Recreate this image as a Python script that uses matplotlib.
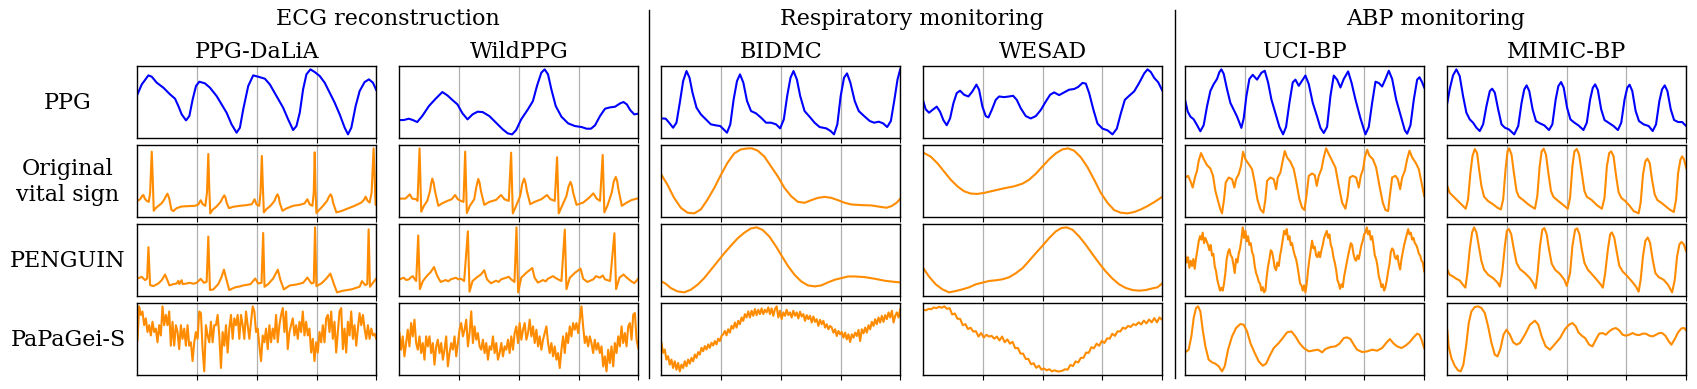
import numpy as np
import matplotlib
matplotlib.use("Agg")
import matplotlib.pyplot as plt
from matplotlib.lines import Line2D

plt.rcParams['font.family'] = ['DejaVu Serif']

# ---------------- labels ----------------
groups = ["ECG reconstruction", "Respiratory monitoring", "ABP monitoring"]
datasets = ["PPG-DaLiA", "WildPPG", "BIDMC", "WESAD", "UCI-BP", "MIMIC-BP"]
row_labels = ["PPG", "Original\nvital sign", "PENGUIN", "PaPaGei-S"]

# ---------------- data (time, amplitude) ----------------
# PPG-DaLiA
dalia_ppg = [(0,133),(13,163),(33,190),(43,186),(58,168),(78,153),(98,133),(113,120),(123,98),(133,73),(146,55),(156,68),(166,118),(176,158),(186,171),(203,166),(218,153),(238,128),(253,103),(268,78),(283,43),(298,18),(308,33),(318,88),(333,158),(348,190),(363,186),(383,180),(398,163),(418,128),(438,93),(453,58),(468,26),(478,38),(488,78),(498,148),(508,193),(520,208),(533,200),(548,188),(563,168),(578,138),(593,108),(608,73),(623,33),(633,13),(643,33),(656,98),(668,143),(683,170),(696,178),(708,168),(718,146)]
dalia_orig = [(0,49),(8,54),(14,64),(18,67),(22,56),(28,49),(34,46),(38,74),(43,199),(46,114),(49,19),(54,26),(63,34),(73,42),(81,54),(86,64),(90,71),(93,64),(96,54),(102,22),(108,18),(118,27),(133,32),(153,33),(173,34),(183,38),(190,51),(196,39),(204,34),(209,74),(213,192),(216,84),(219,11),(226,22),(238,32),(250,46),(256,58),(261,66),(265,58),(268,44),(275,27),(288,31),(308,34),(328,36),(344,39),(352,54),(358,38),(366,34),(370,74),(374,186),(377,94),(380,14),(388,24),(400,34),(412,49),(417,62),(421,69),(425,60),(428,42),(436,19),(448,26),(468,34),(488,37),(502,41),(511,54),(518,38),(526,34),(530,74),(533,197),(535,94),(538,12),(546,21),(558,34),(570,49),(576,62),(581,69),(585,60),(588,44),(598,14),(613,18),(633,26),(653,34),(673,44),(681,52),(686,62),(692,49),(698,44),(704,74),(710,209),(713,124),(716,37),(718,37)]
dalia_penguin = [(0,54),(13,59),(23,49),(29,54),(33,149),(38,34),(48,31),(63,39),(73,49),(83,66),(90,49),(96,33),(108,37),(118,39),(123,47),(126,37),(133,49),(136,37),(148,39),(158,41),(168,38),(178,41),(190,53),(200,41),(208,44),(213,181),(218,19),(228,21),(243,37),(253,59),(260,81),(268,49),(276,19),(293,27),(308,30),(318,33),(330,35),(340,37),(354,54),(363,39),(373,41),(378,192),(382,29),(393,37),(408,54),(422,81),(430,49),(440,21),(458,33),(473,35),(483,37),(498,41),(511,57),(523,39),(530,41),(534,209),(538,31),(553,39),(568,54),(580,69),(590,39),(600,12),(618,17),(643,21),(668,29),(675,46),(685,34),(691,37),(695,203),(699,29),(708,41),(718,54)]
dalia_papagei = [100,200,175,185,145,165,125,145,115,155,125,135,95,145,115,200,145,175,145,185,85,155,85,145,125,75,145,105,135,85,145,85,95,40,95,125,105,185,180,75,10,145,115,95,155,95,145,145,175,115,20,125,85,145,65,135,175,105,165,145,175,105,175,145,105,185,145,105,155,200,185,125,135,85,40,115,95,135,75,145,95,135,105,175,95,145,175,195,125,185,75,125,145,165,115,145,105,155,125,185,115,155,115,135,65,105,40,95,65,125,95,145,95,165,175,125,185,105,155,65,125,185,195,75,135,65,155,115,185,105,145,85,135,180,145,175,135,105,145,105,135,115,120,105]

# WildPPG
wild_ppg = [(0,56),(13,56),(28,60),(40,56),(53,50),(68,68),(88,98),(108,120),(128,140),(143,130),(158,116),(173,103),(188,76),(203,58),(218,73),(233,81),(248,80),(268,68),(288,48),(308,28),(323,16),(336,13),(348,26),(363,58),(383,88),(398,113),(410,158),(423,198),(433,208),(443,193),(453,148),(466,98),(483,66),(503,46),(523,38),(543,35),(558,30),(571,30),(583,40),(598,68),(613,90),(628,94),(643,96),(658,106),(668,110),(678,103),(688,86),(700,73),(712,75)]
wild_orig = [(0,56),(18,56),(31,69),(38,56),(50,54),(54,49),(60,209),(65,16),(73,34),(83,49),(91,79),(95,104),(98,117),(102,104),(106,79),(116,34),(128,42),(143,49),(156,54),(166,67),(174,54),(183,49),(191,46),(196,199),(201,12),(210,34),(223,54),(229,90),(235,116),(239,104),(243,79),(253,37),(268,46),(288,52),(303,67),(313,54),(326,49),(333,196),(338,11),(348,34),(360,64),(366,100),(372,117),(376,104),(380,79),(390,39),(403,46),(423,54),(440,67),(450,54),(463,49),(470,182),(475,11),(485,34),(498,64),(504,92),(510,107),(514,96),(518,74),(528,37),(548,44),(566,59),(578,72),(588,56),(598,49),(606,189),(611,14),(620,34),(633,74),(639,108),(645,122),(649,110),(653,84),(663,34),(678,44),(693,52),(712,57)]
wild_penguin = [(0,49),(13,54),(20,47),(28,49),(34,55),(40,59),(46,49),(50,44),(56,184),(61,19),(70,44),(83,61),(93,71),(103,87),(113,59),(123,41),(138,47),(146,43),(153,49),(168,54),(176,49),(183,51),(193,44),(204,197),(209,11),(218,44),(233,57),(243,64),(253,77),(261,49),(273,37),(288,45),(296,41),(303,49),(318,54),(326,57),(333,49),(343,41),(349,209),(354,9),(363,54),(378,69),(396,84),(403,54),(413,39),(428,47),(436,43),(443,51),(458,59),(466,53),(473,49),(483,44),(493,202),(498,19),(508,54),(523,69),(540,82),(548,51),(560,41),(578,49),(586,59),(598,54),(606,61),(613,49),(628,44),(641,191),(646,19),(656,54),(668,64),(678,54),(690,44),(700,37),(712,51)]
wild_papagei = [125,75,115,55,95,135,85,155,115,165,95,75,115,65,95,45,115,85,115,65,95,30,85,105,65,95,45,75,115,25,65,95,75,115,55,95,135,155,115,135,165,85,125,190,95,145,105,125,85,75,105,65,95,45,85,75,115,65,95,45,65,95,55,85,75,105,65,115,75,125,145,95,155,105,135,155,105,125,165,115,145,95,135,85,115,75,105,125,145,95,65,95,55,85,45,65,20,75,115,65,125,95,145,115,155,135,155,125,165,205,145,95,115,85,115,95,65,105,75,95,65,85,25,55,10,75,35,85,25,95,65,115,85,145,95,125,85,145,155,105,180,185,105,80]

# BIDMC
bidmc_ppg = [(0,61),(13,60),(23,48),(35,33),(45,48),(55,108),(65,173),(75,203),(84,183),(93,138),(105,93),(118,73),(133,58),(148,43),(163,40),(176,38),(188,26),(196,18),(206,43),(216,118),(226,173),(235,193),(245,168),(256,113),(268,83),(283,76),(298,63),(313,48),(328,48),(343,43),(355,31),(366,58),(376,128),(386,183),(395,203),(405,178),(415,128),(428,83),(443,66),(458,48),(473,35),(493,31),(506,23),(516,13),(526,43),(536,128),(546,183),(555,196),(565,168),(578,113),(590,83),(606,68),(623,53),(636,48),(650,51),(663,46),(675,35),(686,53),(696,113),(706,178),(714,208)]
bidmc_orig = [(0,129),(18,99),(38,59),(58,29),(78,14),(98,12),(118,24),(138,54),(158,89),(178,129),(198,166),(218,194),(238,206),(258,209),(271,209),(288,202),(308,184),(328,154),(348,124),(368,89),(388,64),(408,47),(428,44),(448,52),(468,59),(488,62),(508,59),(528,52),(548,44),(568,39),(598,37),(628,36),(653,32),(673,29),(688,34),(703,44),(714,56)]
bidmc_penguin = [(0,44),(13,37),(28,24),(48,14),(68,11),(88,19),(108,34),(128,54),(148,79),(168,104),(188,129),(208,152),(228,174),(248,191),(268,204),(285,207),(303,199),(323,179),(343,149),(358,124),(378,91),(398,64),(418,44),(438,32),(458,29),(478,32),(498,41),(518,49),(538,54),(558,59),(578,59),(608,57),(638,52),(668,46),(693,43),(714,41)]
bidmc_papagei = [95,65,75,45,55,30,45,20,40,15,35,10,30,20,40,25,45,33,50,40,60,50,67,60,80,70,85,75,90,80,95,87,100,90,107,100,115,120,130,117,135,125,145,137,155,140,160,150,170,160,180,170,188,170,190,175,195,177,193,180,197,180,193,185,200,180,197,175,195,203,170,190,165,185,175,193,177,185,170,190,175,185,167,187,173,180,160,177,165,175,155,173,157,165,145,163,150,160,140,150,135,145,140,125,135,115,130,120,127,110,125,105,120,97,120,110,125,115,133,100,135,123,140,125,147,135,157,145,165,150,170,155,175,157,177,165,185,170,190,155,175,185,170,195]

# WESAD
wesad_ppg = [(0,113),(7,90),(17,80),(27,88),(40,98),(50,83),(60,58),(70,43),(80,63),(90,108),(100,138),(110,145),(122,133),(135,128),(147,143),(159,163),(167,148),(177,98),(187,70),(195,66),(205,88),(217,118),(227,128),(242,126),(257,128),(269,130),(280,118),(292,93),(307,70),(322,63),(337,70),(352,88),(367,113),(380,133),(392,140),(407,132),(422,140),(437,148),(452,150),(464,156),(477,168),(487,166),(497,138),(510,88),(522,48),(537,33),(552,28),(567,16),(580,33),(592,78),(604,118),(617,130),(632,143),(647,168),(662,196),(672,208),(682,200),(692,183),(704,170),(716,146)]
wesad_orig = [(0,196),(22,184),(42,164),(62,139),(82,114),(102,94),(122,79),(142,72),(162,71),(182,74),(212,81),(242,88),(272,94),(297,102),(317,114),(337,132),(357,154),(377,176),(397,194),(417,206),(434,209),(452,202),(472,182),(492,152),(512,114),(532,74),(552,44),(572,22),(592,14),(612,12),(632,16),(652,24),(672,34),(692,46),(716,62)]
wesad_penguin = [(0,84),(17,59),(37,36),(57,21),(77,12),(97,16),(117,21),(137,27),(157,36),(177,41),(197,46),(217,48),(237,51),(257,57),(277,69),(297,84),(317,106),(337,129),(357,151),(377,174),(397,194),(414,204),(429,206),(447,199),(467,179),(487,154),(507,126),(527,99),(547,74),(567,53),(587,36),(607,25),(627,19),(647,17),(667,19),(687,24),(702,27),(716,39)]
wesad_papagei = [194,193,197,196,201,199,203,200,204,197,199,181,184,169,169,151,154,140,144,133,134,119,129,116,124,119,121,113,119,108,119,103,111,99,104,86,87,71,71,56,56,41,44,31,37,26,29,24,27,21,24,21,21,23,27,26,39,36,49,46,59,59,74,73,89,86,99,93,107,101,114,113,127,121,134,133,144,141,149,146,154,151,159,153,164,156,167,159,171,159,173,166]

# UCI-BP
uci_ppg = [(0,113),(7,83),(15,68),(25,60),(35,43),(45,25),(55,43),(65,98),(75,143),(85,163),(95,178),(102,198),(108,206),(115,193),(125,148),(135,108),(145,88),(155,68),(168,35),(175,63),(183,128),(192,178),(202,190),(215,176),(228,196),(238,202),(248,168),(258,118),(270,78),(282,38),(293,16),(302,38),(312,108),(322,168),(330,176),(340,158),(350,173),(360,188),(370,163),(382,108),(395,68),(405,35),(415,20),(425,38),(435,128),(445,188),(455,176),(465,153),(475,178),(488,200),(498,168),(510,118),(525,63),(540,16),(550,38),(560,108),(570,170),(580,166),(590,156),(600,178),(610,202),(620,178),(632,118),(645,73),(658,28),(665,18),(675,43),(685,118),(695,176),(702,183),(710,168),(716,153)]
uci_orig = [(0,119),(8,124),(15,109),(22,89),(30,124),(35,139),(40,169),(47,192),(55,174),(65,156),(75,146),(83,124),(90,79),(98,49),(105,24),(110,12),(116,54),(121,104),(130,119),(140,114),(147,89),(152,114),(160,129),(167,154),(173,196),(180,174),(190,159),(200,144),(208,104),(216,54),(225,24),(234,14),(240,54),(245,109),(255,119),(265,114),(272,84),(277,119),(285,134),(292,169),(298,198),(305,179),(315,166),(325,144),(333,104),(342,54),(350,29),(357,22),(363,64),(370,124),(380,131),(388,126),(394,94),(400,124),(408,144),(415,179),(422,206),(430,189),(440,169),(450,149),(460,94),(470,44),(480,26),(487,64),(493,119),(502,124),(512,119),(520,89),(526,124),(533,144),(538,179),(545,202),(552,184),(562,174),(572,149),(582,94),(592,44),(600,22),(608,19),(613,64),(620,119),(630,124),(637,114),(644,84),(650,119),(658,139),(665,174),(672,199),(680,179),(690,164),(700,144),(708,104),(716,64)]
uci_penguin = [119,99,114,84,104,89,109,81,111,134,159,174,164,184,154,169,159,149,134,149,119,124,89,74,49,34,19,27,19,39,69,109,129,137,119,114,94,69,109,99,124,139,164,199,169,189,159,174,149,154,129,119,89,69,59,44,39,19,29,14,19,59,89,109,134,129,109,84,77,99,89,119,139,164,189,179,194,164,174,149,154,134,119,109,89,64,39,34,19,34,14,39,79,109,134,161,139,144,119,114,129,114,134,149,169,179,189,169,179,149,139,114,99,79,49,39,24,37,29,59,79,99,119,137,154,149,124,109,104,119,109,129,149,161,179,184,199,179,189,164,174,149,119,109,89,59,47,29,37,19,29,49,74,94,129,139,134,114,109,119,94,79,109,129,149,164,179,194,179,184,164,169,154,149,139,124,119,104,99,74]
uci_papagei = [(0,67),(10,75),(18,115),(25,170),(32,200),(38,205),(45,190),(52,135),(60,85),(70,45),(80,37),(90,33),(100,25),(110,10),(118,25),(128,75),(140,115),(152,140),(165,152),(175,150),(185,130),(195,95),(208,65),(220,40),(232,27),(242,33),(252,55),(265,80),(280,95),(292,110),(305,127),(318,130),(330,115),(342,95),(355,80),(370,70),(385,73),(398,75),(410,67),(420,77),(435,83),(450,85),(462,93),(475,110),(485,112),(495,107),(505,90),(515,75),(530,68),(545,70),(560,75),(575,72),(590,80),(602,95),(613,107),(625,93),(635,85),(648,80),(660,87),(672,97),(685,113),(695,123),(702,120),(708,105),(716,80)]

# MIMIC-BP
mimic_ppg = [(0,108),(7,148),(17,190),(27,208),(37,188),(47,128),(57,78),(67,58),(77,48),(87,33),(97,23),(107,43),(117,98),(127,143),(134,150),(142,138),(152,88),(162,43),(172,33),(184,28),(200,13),(212,38),(222,108),(230,148),(237,160),(245,143),(255,88),(265,53),(277,46),(290,40),(304,26),(314,43),(324,118),(332,158),(340,170),(348,153),(358,93),(368,58),(380,48),(392,40),(407,26),(417,48),(427,118),(435,153),(442,163),(450,146),(460,88),(470,56),(482,48),(497,38),(510,26),(520,48),(530,118),(538,153),(545,162),(553,143),(563,83),(573,53),(587,43),(602,38),(614,23),(624,43),(634,113),(642,148),(650,160),(658,143),(668,88),(678,56),(690,50),(702,50),(714,38)]
mimic_orig = [(0,94),(7,74),(17,64),(27,54),(42,39),(55,26),(62,54),(69,134),(75,184),(82,206),(89,194),(95,144),(102,94),(110,62),(122,49),(137,39),(150,29),(160,24),(167,54),(174,144),(180,199),(185,208),(192,189),(199,134),(207,79),(214,62),(227,52),(242,39),(254,31),(262,26),(269,64),(276,154),(282,199),(288,207),(295,189),(302,134),(310,79),(317,62),(332,49),(347,37),(360,26),(367,59),(374,154),(380,199),(387,206),(394,189),(402,134),(410,79),(417,62),(432,52),(447,37),(462,26),(470,59),(477,154),(484,194),(490,199),(497,184),(504,129),(512,76),(520,59),(532,49),(544,36),(557,19),(572,12),(578,44),(585,129),(592,169),(598,177),(605,164),(612,114),(620,69),(628,52),(640,44),(652,34),(664,24),(677,16),(684,54),(690,134),(697,174),(702,184),(708,174),(714,149)]
mimic_penguin = [(0,79),(7,64),(17,59),(27,52),(37,47),(47,34),(54,26),(60,69),(67,139),(74,189),(80,204),(87,189),(94,149),(102,104),(110,79),(122,64),(137,54),(150,41),(157,29),(164,69),(172,149),(178,194),(184,199),(191,184),(198,144),(207,99),(217,81),(232,69),(247,54),(257,39),(264,24),(270,69),(277,149),(284,197),(290,202),(297,184),(304,139),(312,97),(322,79),(337,66),(350,49),(357,31),(367,69),(374,149),(382,197),(388,201),(395,184),(402,139),(410,99),(420,79),(432,66),(447,49),(457,37),(465,26),(472,69),(480,139),(487,184),(492,189),(499,174),(507,129),(514,91),(524,74),(537,61),(552,44),(564,29),(572,14),(578,49),(585,119),(592,164),(599,174),(606,159),(614,109),(622,69),(632,57),(647,49),(660,34),(672,12),(680,49),(687,119),(694,154),(700,161),(707,154),(714,134)]
mimic_papagei = [(0,133),(4,85),(12,50),(22,27),(32,13),(40,10),(48,30),(56,85),(64,155),(72,190),(82,203),(92,205),(102,200),(112,185),(122,145),(132,95),(142,60),(150,55),(158,75),(168,120),(177,135),(187,120),(197,97),(207,90),(217,95),(232,120),(247,150),(262,162),(272,150),(282,115),(294,85),(307,75),(320,90),(337,110),(352,137),(364,150),(374,155),(384,145),(392,127),(402,117),(412,110),(424,90),(434,85),(444,105),(454,123),(464,125),(474,120),(484,130),(494,137),(504,140),(514,133),(524,120),(534,117),(544,120),(554,125),(564,120),(574,119),(584,123),(594,123),(604,117),(614,115),(624,120),(634,125),(642,125),(652,117),(662,100),(670,90),(680,107),(690,127),(700,139),(708,140),(714,133)]

columns = [
    [dalia_ppg, dalia_orig, dalia_penguin, dalia_papagei],
    [wild_ppg, wild_orig, wild_penguin, wild_papagei],
    [bidmc_ppg, bidmc_orig, bidmc_penguin, bidmc_papagei],
    [wesad_ppg, wesad_orig, wesad_penguin, wesad_papagei],
    [uci_ppg, uci_orig, uci_penguin, uci_papagei],
    [mimic_ppg, mimic_orig, mimic_penguin, mimic_papagei],
]

PPG_COLOR = "#0000ff"
VS_COLOR = "#ff8c00"

fig = plt.figure(figsize=(16.97, 3.8999), dpi=100)
gs = fig.add_gridspec(4, 6, left=0.0810, right=0.9936, top=0.8279, bottom=0.0369,
                      wspace=0.097, hspace=0.105)

axes = np.empty((4, 6), dtype=object)
for c, col in enumerate(columns):
    for r, series in enumerate(col):
        ax = fig.add_subplot(gs[r, c])
        axes[r, c] = ax
        if isinstance(series[0], tuple):
            t, v = zip(*series)
            t = np.asarray(t, float)
            v = np.asarray(v, float)
        else:
            v = np.asarray(series, float)
            t = np.arange(len(v), dtype=float)
        ax.plot(t, v, color=PPG_COLOR if r == 0 else VS_COLOR, lw=1.5)
        ax.set_xlim(t[0], t[-1])
        ax.set_xticks(np.linspace(t[0], t[-1], 5)[1:])
        ax.set_xticklabels([])
        ax.set_yticks([])
        ax.grid(axis='x', color='#b0b0b0', lw=0.9)
        ax.set_axisbelow(True)
        for s in ax.spines.values():
            s.set_linewidth(1.0)

# column titles
for c, name in enumerate(datasets):
    pos = axes[0, c].get_position()
    fig.text((pos.x0 + pos.x1) / 2, 1 - 52 / 390, name, ha='center', va='center', fontsize=16)

# group titles
for g, name in enumerate(groups):
    p0 = axes[0, 2 * g].get_position()
    p1 = axes[0, 2 * g + 1].get_position()
    fig.text((p0.x0 + p1.x1) / 2, 1 - 19.5 / 390, name, ha='center', va='center', fontsize=16)

# row labels
for r, name in enumerate(row_labels):
    pos = axes[r, 0].get_position()
    fig.text(68 / 1697, (pos.y0 + pos.y1) / 2, name, ha='center', va='center',
             fontsize=16, linespacing=1.2)

# group separators
for xs in (649.4 / 1697, 1175.4 / 1697):
    fig.add_artist(Line2D([xs, xs], [1 - 379 / 390, 1 - 11 / 390], color='black', lw=1.0,
                          transform=fig.transFigure))

fig.savefig("out.png", dpi=100)
